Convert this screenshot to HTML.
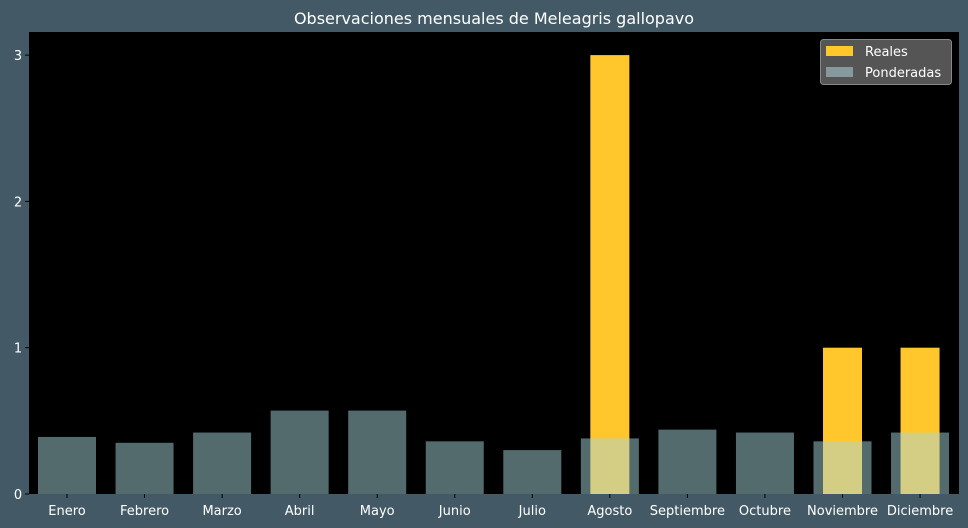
<!DOCTYPE html>
<html><head><meta charset="utf-8"><style>
body{margin:0;background:#435a66;}
svg{display:block;font-family:"DejaVu Sans","Liberation Sans",sans-serif;}
</style></head><body>
<svg id="chart" width="968" height="528">
<rect width="968" height="528" fill="#435a66"/>
<text x="494" y="24" text-anchor="middle" font-size="16" fill="#ffffff">Observaciones mensuales de Meleagris gallopavo</text>
<rect x="29" y="32" width="930" height="462" fill="#000000"/>
<g id="bars"></g>
<g id="axes"></g>
<g>
<rect x="820.5" y="39.5" width="131" height="45" rx="3" fill="#555555" stroke="#888" stroke-width="1"/>
<rect x="826" y="46" width="27" height="10" fill="#ffc72c"/>
<text x="865" y="56" font-size="13" fill="#ffffff">Reales</text>
<rect x="826" y="67" width="27" height="10" fill="#86999d"/>
<text x="865" y="77" font-size="13" fill="#ffffff">Ponderadas</text>
</g>
</svg>
<script>
const categories=["Enero","Febrero","Marzo","Abril","Mayo","Junio","Julio","Agosto","Septiembre","Octubre","Noviembre","Diciembre"];
const reales=[0,0,0,0,0,0,0,3,0,0,1,1];
const ponderadas=[0.39,0.35,0.42,0.57,0.57,0.36,0.30,0.38,0.44,0.42,0.36,0.42];
const yTicks=[0,1,2,3];
const NS="http://www.w3.org/2000/svg";
const x0=67,step=77.55,yBase=494,yScale=146.3;
function xPos(i){return x0+i*step;}
function yPos(v){return yBase-v*yScale;}
const bars=document.getElementById('bars'),axes=document.getElementById('axes');
function mk(tag,attrs,parent){const e=document.createElementNS(NS,tag);for(const k in attrs)e.setAttribute(k,attrs[k]);parent.appendChild(e);return e;}
reales.forEach((v,i)=>{
 if(v<=0)return;
 const r=mk('rect',{x:xPos(i)-19.5,y:yPos(v),width:39,height:yBase-yPos(v),fill:'#ffc72c'},bars);
 
 
});
ponderadas.forEach((v,i)=>{
 const r=mk('rect',{x:xPos(i)-29,y:yPos(v),width:58,height:yBase-yPos(v),fill:'#a8d6dc','fill-opacity':0.5},bars);
 
 
});
categories.forEach((c,i)=>{
 const t=mk('line',{x1:xPos(i),x2:xPos(i),y1:494,y2:498,stroke:'#000'},axes);
 
 
 const l=mk('text',{x:xPos(i),y:515,'text-anchor':'middle','font-size':13,fill:'#fff'},axes);
 l.textContent=c;
 
 
});
yTicks.forEach(v=>{
 const t=mk('line',{x1:25,x2:29,y1:yPos(v),y2:yPos(v),stroke:'#000'},axes);
 
 
 const l=mk('text',{x:18,y:yPos(v)+5,'text-anchor':'middle','font-size':13,fill:'#fff'},axes);
 l.textContent=v;
 
 
});
</script>
</body></html>
